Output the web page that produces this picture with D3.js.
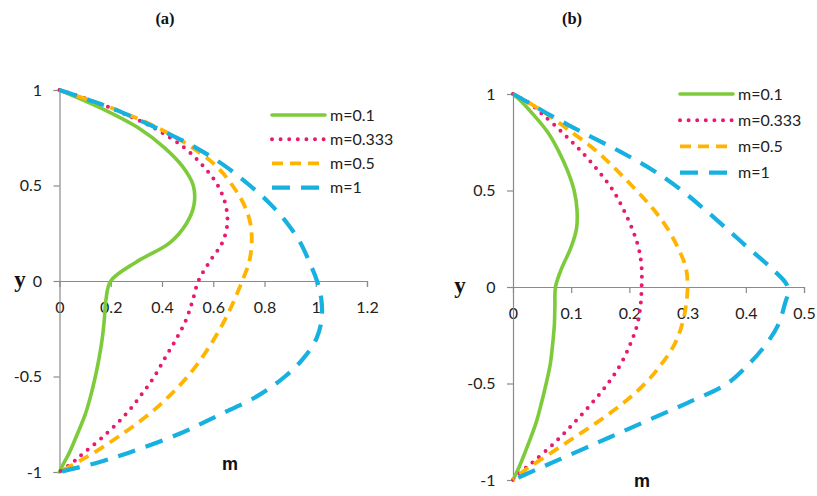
<!DOCTYPE html>
<html>
<head>
<meta charset="utf-8">
<script src="https://cdn.jsdelivr.net/npm/d3@7"></script>
<style>
  html, body { margin: 0; padding: 0; background: #fff; }
  svg { display: block; }
  .tick text { font-family: Lato, "Liberation Sans", sans-serif; font-size: 16px; fill: #222; }
</style>
</head>
<body>
<script>
// Velocity profiles across the channel height y for four values of m
const yLevels = [1, 0.95, 0.9, 0.8, 0.7, 0.6, 0.5, 0.4, 0.3, 0.2, 0.1, 0,
                 -0.1, -0.2, -0.3, -0.4, -0.5, -0.6, -0.7, -0.8, -0.9, -0.95, -1];

const seriesNames = ["m=0.1", "m=0.333", "m=0.5", "m=1"];

// panel (a)
const a_m01  = [0, 0.088, 0.17, 0.31, 0.408, 0.48, 0.522, 0.525, 0.495, 0.43, 0.30, 0.20,
                0.181, 0.175, 0.167, 0.155, 0.14, 0.122, 0.1, 0.07, 0.038, 0.018, 0];
const a_m333 = [0, 0.113, 0.21, 0.37, 0.485, 0.562, 0.618, 0.648, 0.655, 0.635, 0.585, 0.542,
                0.52, 0.495, 0.457, 0.413, 0.37, 0.317, 0.257, 0.183, 0.095, 0.052, 0];
const a_m05  = [0, 0.11, 0.215, 0.386, 0.517, 0.613, 0.675, 0.72, 0.745, 0.75, 0.74, 0.713,
                0.682, 0.647, 0.605, 0.557, 0.5, 0.43, 0.347, 0.246, 0.133, 0.068, 0];
const a_m1   = [0, 0.11, 0.213, 0.38, 0.53, 0.648, 0.743, 0.825, 0.89, 0.94, 0.975, 1.005,
                1.022, 1.023, 1.003, 0.955, 0.88, 0.775, 0.625, 0.468, 0.268, 0.15, 0];

// panel (b)
const b_m01  = [0, 0.018, 0.033, 0.06, 0.079, 0.094, 0.105, 0.11, 0.109, 0.099, 0.084, 0.073,
                0.072, 0.071, 0.068, 0.064, 0.057, 0.049, 0.04, 0.028, 0.015, 0.008, 0];
const b_m333 = [0, 0.029, 0.049, 0.085, 0.118, 0.147, 0.172, 0.19, 0.205, 0.216, 0.221, 0.221,
                0.219, 0.213, 0.201, 0.185, 0.163, 0.136, 0.106, 0.074, 0.037, 0.017, 0];
const b_m05  = [0, 0.03, 0.056, 0.102, 0.145, 0.18, 0.212, 0.242, 0.266, 0.284, 0.297, 0.30,
                0.297, 0.29, 0.277, 0.255, 0.227, 0.19, 0.145, 0.095, 0.045, 0.02, 0];
const b_m1   = [0, 0.03, 0.058, 0.12, 0.185, 0.243, 0.29, 0.33, 0.368, 0.405, 0.443, 0.472,
                0.466, 0.455, 0.434, 0.405, 0.368, 0.30, 0.225, 0.15, 0.075, 0.037, 0];

const yTicks  = [-1, -0.5, 0, 0.5, 1];
const aXTicks = [0, 0.2, 0.4, 0.6, 0.8, 1, 1.2];
const bXTicks = [0, 0.1, 0.2, 0.3, 0.4, 0.5];

// line styles per series
const styles = [
  { color: "#7DCB3B", width: 3.6, dash: null,     cap: "round" },
  { color: "#E8196E", width: 4,   dash: "0,8.6",  cap: "round" },
  { color: "#FFB400", width: 3.8, dash: "11,7",   cap: "butt" },
  { color: "#16B1E0", width: 4.2, dash: "18,11",  cap: "butt" }
];

const panels = [
  { title: "(a)", titleX: 165, series: [a_m01, a_m333, a_m05, a_m1], xTicks: aXTicks,
    xRange: [59.5, 367], yRange: [472, 90],
    legend: { x0: 272, x1: 325, y0: 115, dy: 24.2 },
    yLabel: [20, 287], mLabel: [230, 470] },
  { title: "(b)", titleX: 572, series: [b_m01, b_m333, b_m05, b_m1], xTicks: bXTicks,
    xRange: [513, 804], yRange: [480, 94],
    legend: { x0: 680, x1: 733, y0: 94, dy: 26.2 },
    yLabel: [460, 293], mLabel: [642, 487] }
];

const svg = d3.select("body").append("svg")
  .attr("width", 817).attr("height", 496);

const axisColor = "#8A8A8A";

panels.forEach(p => {
  const xTickMax = p.xTicks[p.xTicks.length - 1];
  const x = d3.scaleLinear().domain([0, xTickMax]).range(p.xRange);
  const y = d3.scaleLinear().domain([-1, 1]).range(p.yRange);
  const g = svg.append("g");

  // x axis through y = 0
  const xAxis = g.append("g")
    .attr("transform", `translate(0,${y(0)})`)
    .call(d3.axisBottom(x).tickValues(p.xTicks).tickFormat(d => String(d))
      .tickSizeOuter(0).tickSize(6).tickPadding(15));
  // y axis at m = 0
  const yAxis = g.append("g")
    .attr("transform", `translate(${x(0)},0)`)
    .call(d3.axisLeft(y).tickValues(yTicks).tickFormat(d => String(d))
      .tickSizeOuter(0).tickSize(6).tickPadding(11.5));
  [xAxis, yAxis].forEach(ax => {
    ax.select(".domain").attr("stroke", axisColor).attr("stroke-width", 1.2);
    ax.selectAll(".tick line").attr("stroke", axisColor).attr("stroke-width", 1.2);
  });
  // no separate tick below the origin; the y axis already passes there
  xAxis.selectAll(".tick").filter(d => d === 0).select("line").remove();

  const line = d3.line()
    .x(d => x(d[0]))
    .y(d => y(d[1]))
    .curve(d3.curveCatmullRom.alpha(0.5));

  p.series.forEach((vals, i) => {
    const s = styles[i];
    const pts = vals.map((v, k) => [v, yLevels[k]]);
    g.append("path")
      .datum(pts)
      .attr("d", line)
      .attr("fill", "none")
      .attr("stroke", s.color)
      .attr("stroke-width", s.width)
      .attr("stroke-linecap", s.cap)
      .attr("stroke-linejoin", "round")
      .attr("stroke-dasharray", s.dash);
  });

  // legend
  const lg = g.append("g");
  seriesNames.forEach((name, i) => {
    const s = styles[i];
    const ly = p.legend.y0 + i * p.legend.dy;
    lg.append("line")
      .attr("x1", p.legend.x0).attr("x2", p.legend.x1)
      .attr("y1", ly).attr("y2", ly)
      .attr("stroke", s.color)
      .attr("stroke-width", s.width)
      .attr("stroke-linecap", s.cap)
      .attr("stroke-dasharray", s.dash);
    lg.append("text")
      .attr("x", p.legend.x1 + 5).attr("y", ly)
      .attr("dy", "0.36em")
      .style("font-family", "Lato, 'Liberation Sans', sans-serif")
      .style("font-size", "16px")
      .attr("fill", "#222")
      .text(name);
  });

  // axis titles
  g.append("text")
    .attr("x", p.yLabel[0]).attr("y", p.yLabel[1])
    .attr("text-anchor", "middle")
    .style("font-family", "'Liberation Serif', 'DejaVu Serif', serif")
    .style("font-weight", "bold")
    .style("font-size", "23px")
    .attr("fill", "#111")
    .text("y");
  g.append("text")
    .attr("x", p.mLabel[0]).attr("y", p.mLabel[1])
    .attr("text-anchor", "middle")
    .style("font-family", "'Liberation Sans', Arial, sans-serif")
    .style("font-weight", "bold")
    .style("font-size", "18px")
    .attr("fill", "#111")
    .text("m");

  // panel title
  g.append("text")
    .attr("x", p.titleX).attr("y", 24)
    .attr("text-anchor", "middle")
    .style("font-family", "'Liberation Serif', 'DejaVu Serif', serif")
    .style("font-weight", "bold")
    .style("font-size", "16.5px")
    .attr("fill", "#111")
    .text(p.title);
});
</script>
</body>
</html>
